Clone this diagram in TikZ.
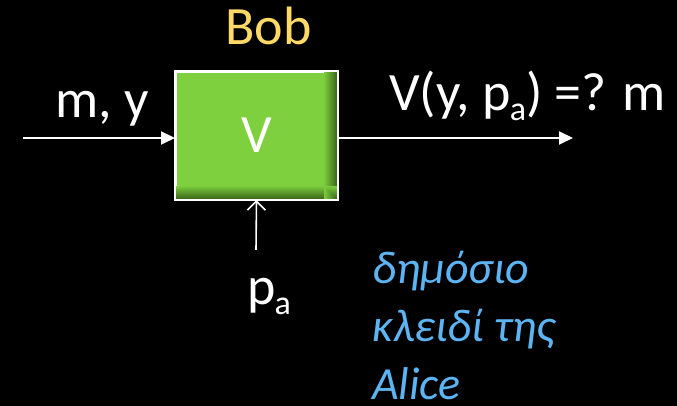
\documentclass[tikz,border=0pt]{standalone}
\usepackage{fontspec}
\setmainfont{Carlito}
\usetikzlibrary{arrows.meta}
\definecolor{boxgreen}{HTML}{7ED03E}
\definecolor{boxdark}{HTML}{3F6C1C}
\definecolor{bobgold}{HTML}{FFD966}
\definecolor{keyblue}{HTML}{5CB4F2}
\newcommand{\subA}{\kern-1pt\raisebox{-10pt}{\fontsize{34}{34}\selectfont a}}

\begin{document}
\begin{tikzpicture}[x=1pt, y=1pt]
\tikzstyle{every node}=[inner sep=0pt, text=white, font=\fontsize{54}{57}\selectfont];
\tikzstyle{arr}=[draw=white, line width=2pt, -{Triangle[length=14pt,width=13pt]}];
\fill[black] (0,0) rectangle (677,406);
\node [draw=white, line width=2pt, fill=boxgreen,
       minimum width=161pt, minimum height=127pt] (ver) at (256.5,270.5) {};
% darker rim, right and bottom
\foreach \i [evaluate=\i as \p using int(100-\i*8)] in {0,...,12} {
  \draw [boxdark!\p!boxgreen, line width=1.1pt]
    ([xshift={-(\i+1.5)*1pt}]ver.north east) -- ([xshift={-(\i+1.5)*1pt}]ver.south east);
  \draw [boxdark!\p!boxgreen, line width=1.1pt]
    ([yshift={(\i+1.5)*1pt}]ver.south west) -- ([yshift={(\i+1.5)*1pt}]ver.south east);
}
\draw [white, line width=2pt] (ver.north west) rectangle (ver.south east);
\node at (ver) {V};
\node [text=bobgold, anchor=base west] (bob) at (225,361) {Bob};
\node [anchor=base west] (msg) at (55,288) {m, y};
\node [anchor=base west] (res) at (389,295) {V(y, p\subA) =? m};
\node [anchor=base west] (pub) at (247,101) {p\subA};
\node [text=keyblue, font=\fontsize{46}{58}\selectfont\itshape, anchor=north west,
       align=left] (key) at (372,155) {δημόσιο\\κλειδί της\\Alice};
\coordinate (in) at (23,268);
\coordinate (out) at (573,268);
\coordinate (pin) at (256,156);
\draw [arr] (in) -- (ver.west |- in);
\draw [arr] (ver.east |- out) -- (out);
\draw [white, line width=1.6pt, -{Straight Barb[length=9pt,width=18pt]}] (pin) -- (ver.south);
\end{tikzpicture}
\end{document}
